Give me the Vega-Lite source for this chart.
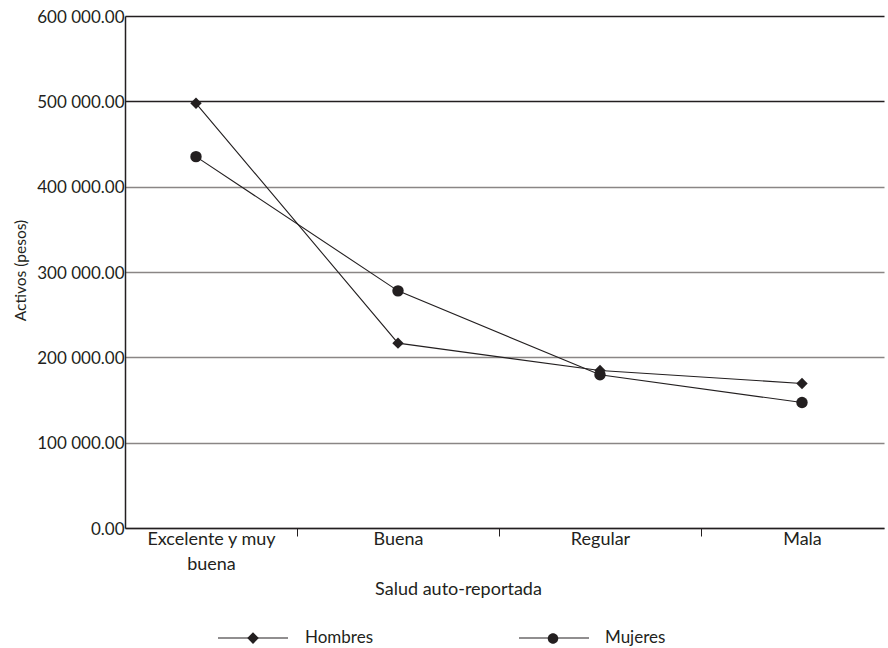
{
  "$schema": "https://vega.github.io/schema/vega-lite/v6.json",
  "width": 759,
  "height": 512,
  "autosize": {"type": "none"},
  "padding": {"left": 125, "top": 16, "right": 4, "bottom": 120},
  "background": "white",
  "config": {
    "view": {"stroke": null},
    "font": "Lato",
    "axis": {"labelFont": "Lato", "titleFont": "Lato", "labelColor": "#231f20", "titleColor": "#231f20", "titleFontWeight": "normal"},
    "legend": {"labelFont": "Lato"}
  },
  "data": {
    "values": [
      {"salud": "Excelente y muy buena", "sexo": "Hombres", "activos": 497700},
      {"salud": "Buena", "sexo": "Hombres", "activos": 216600},
      {"salud": "Regular", "sexo": "Hombres", "activos": 184500},
      {"salud": "Mala", "sexo": "Hombres", "activos": 169400},
      {"salud": "Excelente y muy buena", "sexo": "Mujeres", "activos": 435200},
      {"salud": "Buena", "sexo": "Mujeres", "activos": 277900},
      {"salud": "Regular", "sexo": "Mujeres", "activos": 179500},
      {"salud": "Mala", "sexo": "Mujeres", "activos": 147000}
    ]
  },
  "encoding": {
    "x": {
      "field": "salud",
      "type": "nominal",
      "sort": null,
      "scale": {"type": "point", "domain": ["Excelente y muy buena", "Buena", "Regular", "Mala"], "padding": 0.3787, "align": 0.464},
      "axis": {
        "title": "Salud auto-reportada",
        "titleFontSize": 18,
        "titleX": 333,
        "titleY": 61,
        "titleBaseline": "middle",
        "labelAngle": 0,
        "labelFontSize": 18,
        "labelLineHeight": 25,
        "labelExpr": "datum.value === 'Excelente y muy buena' ? ['Excelente y muy', 'buena'] : datum.value",
        "labelBaseline": "top",
        "labelPadding": -6,
        "tickOffset": 101,
        "labelOffset": {"condition": {"test": "datum.value === 'Excelente y muy buena'", "value": -86}, "value": -101},
        "tickOpacity": {"condition": {"test": "datum.value === 'Mala'", "value": 0}, "value": 1},
        "tickSize": 8,
        "tickColor": "#231f20",
        "domainColor": "#231f20",
        "domainWidth": 1.5,
        "grid": false,
        "labelOverlap": false
      }
    },
    "y": {
      "field": "activos",
      "type": "quantitative",
      "scale": {"domain": [0, 600000], "nice": false},
      "axis": {
        "title": "Activos (pesos)",
        "titleFontSize": 15.5,
        "titleX": -105,
        "titleY": 254,
        "titleAlign": "center",
        "titleBaseline": "middle",
        "values": [0, 100000, 200000, 300000, 400000, 500000, 600000],
        "labelExpr": "replace(format(datum.value, ',.2f'), ',', ' ')",
        "labelFontSize": 17,
        "labelPadding": 1,
        "labelBaseline": "alphabetic",
        "labelOffset": 6,
        "ticks": false,
        "domainColor": "#231f20",
        "domainWidth": 1.5,
        "grid": true,
        "gridColor": {"condition": {"test": "datum.value >= 500000", "value": "#231f20"}, "value": "#8a8685"},
        "gridWidth": 1.3
      }
    }
  },
  "layer": [
    {
      "mark": {"type": "line", "color": "#231f20", "strokeWidth": 1.1},
      "encoding": {"detail": {"field": "sexo", "type": "nominal"}}
    },
    {
      "mark": {"type": "point", "filled": true, "color": "#231f20", "opacity": 1, "size": 130},
      "encoding": {
        "shape": {
          "field": "sexo",
          "type": "nominal",
          "scale": {"domain": ["Hombres", "Mujeres"], "range": ["diamond", "circle"]},
          "legend": null
        }
      }
    },
    {
      "mark": {"type": "point", "filled": false, "color": "#231f20", "strokeWidth": 1.2, "opacity": 0, "size": 4900},
      "encoding": {
        "shape": {
          "field": "sexo",
          "type": "nominal",
          "scale": {"domain": ["Hombres", "Mujeres"], "range": ["M-1,0H1", "M-1,0H1"]},
          "legend": {
            "title": null,
            "orient": "none",
            "direction": "horizontal",
            "legendX": 92,
            "legendY": 586,
            "padding": 0,
            "symbolSize": 4900,
            "symbolOpacity": 1,
            "symbolStrokeWidth": 1.2,
            "labelFontSize": 17,
            "labelExpr": "''",
            "labelOffset": 16,
            "columnPadding": 211
          }
        }
      }
    },
    {
      "mark": {"type": "point", "filled": true, "color": "#231f20", "opacity": 0, "size": 4900},
      "encoding": {
        "shape": {
          "field": "sexo",
          "type": "nominal",
          "scale": {"domain": ["Hombres", "Mujeres"], "range": ["M0,-0.165L0.165,0L0,0.165L-0.165,0Z", "M0.15,0A0.15,0.15,0,1,1,-0.15,0A0.15,0.15,0,1,1,0.15,0Z"]},
          "legend": {
            "title": null,
            "orient": "none",
            "direction": "horizontal",
            "legendX": 92,
            "legendY": 586,
            "padding": 0,
            "symbolSize": 4900,
            "symbolOpacity": 1,
            "labelFontSize": 17,
            "labelColor": "#231f20",
            "labelOffset": 16,
            "columnPadding": 143
          }
        }
      }
    }
  ],
  "resolve": {"scale": {"shape": "independent"}, "legend": {"shape": "independent"}}
}
